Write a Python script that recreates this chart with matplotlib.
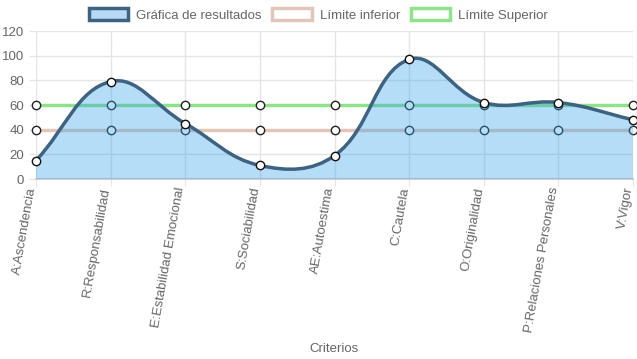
import matplotlib
matplotlib.use("Agg")
import matplotlib.pyplot as plt
import matplotlib.transforms as mtransforms
import numpy as np
from matplotlib.path import Path
from matplotlib.patches import PathPatch, Patch

categories = ["A:Ascendencia", "R:Responsabilidad", "E:Estabilidad Emocional",
              "S:Sociabilidad", "AE:Autoestima", "C:Cautela", "O:Originalidad",
              "P:Relaciones Personales", "V:Vigor"]
resultados = [15, 79, 45, 11, 19, 97, 62, 62, 48]
limite_inferior = [40, 40, 40, 40, 40, 40, 40, 40, 40]
limite_superior = [60, 60, 60, 60, 60, 60, 60, 60, 60]
y_ticks = [0, 20, 40, 60, 80, 100, 120]

plt.rcParams['font.family'] = ['Liberation Sans', 'DejaVu Sans']

W, H = 637, 359
fig = plt.figure(figsize=(W / 100, H / 100), dpi=100)
ax = fig.add_axes([36 / W, (H - 179) / H, (633 - 36) / W, (179 - 31) / H])
x = np.arange(len(categories))
ax.set_xlim(0, len(categories) - 1)
ax.set_ylim(0, 120)

grid_c = "#e5e5e5"
ax.set_yticks(y_ticks)
ax.set_xticks(x)
ax.grid(True, color=grid_c, linewidth=1)
ax.set_axisbelow(True)
for s in ["top", "right", "left"]:
    ax.spines[s].set_visible(False)
ax.spines["bottom"].set_color("#d0d0d0")
ax.spines["bottom"].set_linewidth(1.5)
ax.tick_params(axis="both", colors=grid_c, length=5, labelcolor="#666666", labelsize=9.5)
ax.tick_params(axis="x", pad=1)
ax.set_xticklabels(categories, rotation=80, ha="right", va="center", rotation_mode="anchor")
offset = mtransforms.ScaledTranslation(-4 / 100, 0, fig.dpi_scale_trans)
for lbl in ax.get_xticklabels():
    lbl.set_transform(lbl.get_transform() + offset)

lo_c = "#e3c6ba"
hi_c = "#8ee28c"
line_c = "#3d6282"
fill_c = (54 / 255, 162 / 255, 235 / 255, 0.36)

ax.plot(x, limite_inferior, color=lo_c, lw=2.5, zorder=2, clip_on=False)
ax.plot(x, limite_superior, color=hi_c, lw=2.5, zorder=2, clip_on=False)
ax.plot(x, limite_inferior, ls="none", marker="o", ms=6, mfc="white", mec="#222222", mew=1, zorder=2.5, clip_on=False)
ax.plot(x, limite_superior, ls="none", marker="o", ms=6, mfc="white", mec="#222222", mew=1, zorder=2.5, clip_on=False)

# Chart.js-style spline (tension 0.4) computed in display space
fig.canvas.draw()
pts = ax.transData.transform(np.column_stack([x, resultados]))
t = 0.4
n = len(pts)
cp_prev = np.zeros_like(pts)
cp_next = np.zeros_like(pts)
for i in range(n):
    prev = pts[i - 1] if i > 0 else pts[i]
    cur = pts[i]
    nxt = pts[i + 1] if i < n - 1 else pts[i]
    d01 = np.hypot(*(cur - prev))
    d12 = np.hypot(*(nxt - cur))
    tot = d01 + d12
    s01 = d01 / tot if tot else 0
    s12 = d12 / tot if tot else 0
    cp_prev[i] = cur - t * s01 * (nxt - prev)
    cp_next[i] = cur + t * s12 * (nxt - prev)
verts = [pts[0]]
codes = [Path.MOVETO]
for i in range(n - 1):
    verts += [cp_next[i], cp_prev[i + 1], pts[i + 1]]
    codes += [Path.CURVE4] * 3
inv = ax.transData.inverted()
verts_d = inv.transform(np.array(verts))
curve = Path(verts_d, codes)
fill_verts = list(verts_d) + [[x[-1], 0], [x[0], 0], verts_d[0]]
fill_codes = codes + [Path.LINETO, Path.LINETO, Path.CLOSEPOLY]
ax.add_patch(PathPatch(Path(fill_verts, fill_codes), facecolor=fill_c, edgecolor="none", zorder=3))
ax.add_patch(PathPatch(curve, facecolor="none", edgecolor=line_c, lw=2.5, zorder=4, capstyle="round"))
ax.plot(x, resultados, ls="none", marker="o", ms=6, mfc="white", mec="#111111", mew=1, zorder=5, clip_on=False)

ax.set_xlabel("Criterios", color="#666666", fontsize=9.5, labelpad=0)
ax.xaxis.set_label_coords(0.5, -(343 - 179) / (179 - 31))

handles = [
    Patch(facecolor="#b8d9f5", edgecolor=line_c, lw=2.5),
    Patch(facecolor="white", edgecolor=lo_c, lw=2.5),
    Patch(facecolor="white", edgecolor=hi_c, lw=2.5),
]
fig.legend(handles, ["Gráfica de resultados", "Límite inferior", "Límite Superior"],
           loc="center", bbox_to_anchor=(0.5, 1 - 15 / H), ncol=3, frameon=False,
           fontsize=9.5, labelcolor="#666666", handlelength=3.0, handleheight=1.0,
           handletextpad=0.6, columnspacing=0.8, borderaxespad=0)

fig.savefig("out.png", dpi=100)
